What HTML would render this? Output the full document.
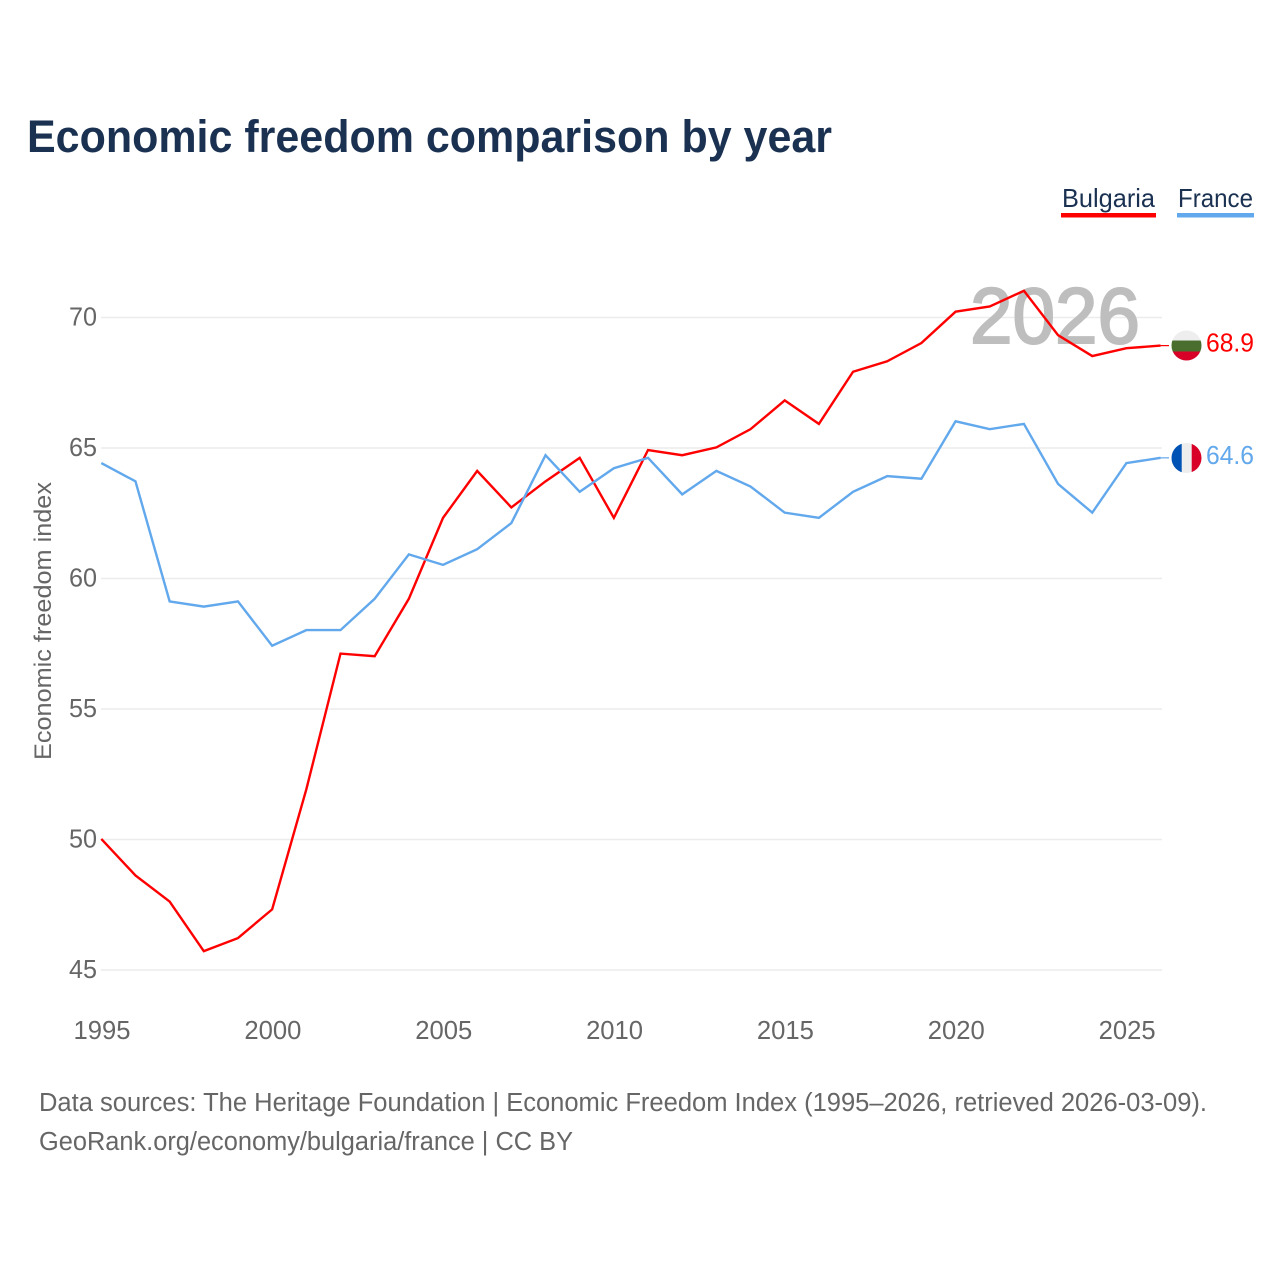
<!DOCTYPE html>
<html lang="en">
<head>
<meta charset="utf-8">
<title>Economic freedom comparison by year</title>
<style>
html,body{margin:0;padding:0;background:#fff;width:1280px;height:1280px;overflow:hidden}
svg{display:block}
text{font-family:"Liberation Sans",sans-serif}
</style>
</head>
<body>
<svg id="chart" xmlns="http://www.w3.org/2000/svg" width="1280" height="1280" viewBox="0 0 1280 1280">
  <rect width="1280" height="1280" fill="#fff"/>
  <text x="27" y="152" font-size="45" font-weight="700" fill="#1a3151" textLength="805" lengthAdjust="spacingAndGlyphs">Economic freedom comparison by year</text>

  <g>
    <text x="1062" y="207" font-size="26" fill="#1a3151" textLength="93" lengthAdjust="spacingAndGlyphs">Bulgaria</text>
    <rect x="1061" y="213" width="95" height="4.5" fill="#ff0000"/>
  </g>
  <g>
    <text x="1178" y="207" font-size="26" fill="#1a3151" textLength="75" lengthAdjust="spacingAndGlyphs">France</text>
    <rect x="1177" y="213" width="77" height="4.5" fill="#62a8ec"/>
  </g>

  <g id="grid"></g>
  <text x="970" y="343" font-size="79" font-weight="400" fill="#bebebe" stroke="#bebebe" stroke-width="2" textLength="170" lengthAdjust="spacingAndGlyphs">2026</text>
  <g id="yticks"></g>
  <g id="xticks"></g>
  <text transform="translate(51 621) rotate(-90)" text-anchor="middle" font-size="24" fill="#666" textLength="278" lengthAdjust="spacingAndGlyphs">Economic freedom index</text>
  <g id="series"></g>
  <g id="flags"></g>

  <text x="39" y="1111" font-size="25.5" fill="#666" textLength="1168" lengthAdjust="spacingAndGlyphs">Data sources: The Heritage Foundation | Economic Freedom Index (1995–2026, retrieved 2026-03-09).</text>
  <text x="39" y="1150" font-size="25.5" fill="#666" textLength="534" lengthAdjust="spacingAndGlyphs">GeoRank.org/economy/bulgaria/france | CC BY</text>
</svg>
<script>
const years = [1995,1996,1997,1998,1999,2000,2001,2002,2003,2004,2005,2006,2007,2008,2009,2010,2011,2012,2013,2014,2015,2016,2017,2018,2019,2020,2021,2022,2023,2024,2025,2026];
const bulgaria = [50.0,48.6,47.6,45.7,46.2,47.3,51.9,57.1,57.0,59.2,62.3,64.1,62.7,63.7,64.6,62.3,64.9,64.7,65.0,65.7,66.8,65.9,67.9,68.3,69.0,70.2,70.4,71.0,69.3,68.5,68.8,68.9];
const france = [64.4,63.7,59.1,58.9,59.1,57.4,58.0,58.0,59.2,60.9,60.5,61.1,62.1,64.7,63.3,64.2,64.6,63.2,64.1,63.5,62.5,62.3,63.3,63.9,63.8,66.0,65.7,65.9,63.6,62.5,64.4,64.6];
const yTickValues = [45,50,55,60,65,70];
const xTickValues = [1995,2000,2005,2010,2015,2020,2025];

const NS = 'http://www.w3.org/2000/svg';
const xScale = v => 101.3 + (v - 1995) * (1160.6 - 101.3) / (2026 - 1995);
const yScale = v => 970 - (v - 45) * (970 - 317.5) / (70 - 45);
const lineY = v => yScale(v) - 0.6;

function make(tag, parent, attrs) {
  const el = document.createElementNS(NS, tag);
  Object.keys(attrs).forEach(k => el.setAttribute(k, attrs[k]));
  parent.appendChild(el);
  return el;
}

const grid = document.getElementById('grid');
const yticks = document.getElementById('yticks');
const xticks = document.getElementById('xticks');
const seriesGroup = document.getElementById('series');
const flags = document.getElementById('flags');

yTickValues.forEach(v => {
  const line = make('line', grid, {x1: 101, x2: 1162, y1: yScale(v), y2: yScale(v), stroke: '#ececec', 'stroke-width': 1.5});
  
  
  const label = make('text', yticks, {x: 97, y: yScale(v) + 8, 'text-anchor': 'end', 'font-size': 26, fill: '#666', textLength: 28, lengthAdjust: 'spacingAndGlyphs'});
  label.textContent = String(v);
  
  
});

xTickValues.forEach(v => {
  const label = make('text', xticks, {x: xScale(v) + 0.7, y: 1039, 'text-anchor': 'middle', 'font-size': 26, fill: '#666', textLength: 57, lengthAdjust: 'spacingAndGlyphs'});
  label.textContent = String(v);
  
  
});

function drawSeries(values, color) {
  const pts = values.map((v, i) => xScale(years[i]).toFixed(2) + ',' + lineY(v).toFixed(2)).join(' ');
  const line = make('polyline', seriesGroup, {points: pts, fill: 'none', stroke: color, 'stroke-width': 2.4, 'stroke-linejoin': 'miter'});
  
  
  const lastY = lineY(values[values.length - 1]);
  const lead = make('line', seriesGroup, {x1: xScale(2026), x2: 1169, y1: lastY, y2: lastY, stroke: color, 'stroke-width': 1.2});
  
  
  const val = make('text', flags, {x: 1206, y: lastY + 6, 'font-size': 26, fill: color, textLength: 48, lengthAdjust: 'spacingAndGlyphs'});
  val.textContent = values[values.length - 1].toFixed(1);
  
  
}
drawSeries(bulgaria, '#ff0000');
drawSeries(france, '#62a8ec');

const defs = make('defs', flags, {});
function clip(id, cy) {
  const c = make('clipPath', defs, {id: id});
  make('circle', c, {cx: 1186.5, cy: cy, r: 15});
}

const bgY = lineY(bulgaria[bulgaria.length - 1]) - 0.1;
clip('clip-bg', bgY);
const bgFlag = make('g', flags, {'clip-path': 'url(#clip-bg)'});


make('rect', bgFlag, {x: 1171, y: bgY - 16, width: 31, height: 32, fill: '#eeeeee'});
make('rect', bgFlag, {x: 1171, y: bgY - 5, width: 31, height: 11, fill: '#496e2d'});
make('rect', bgFlag, {x: 1171, y: bgY + 6, width: 31, height: 10, fill: '#d80027'});

const frY = lineY(france[france.length - 1]) + 0.2;
clip('clip-fr', frY);
const frFlag = make('g', flags, {'clip-path': 'url(#clip-fr)'});


make('rect', frFlag, {x: 1171, y: frY - 16, width: 31, height: 32, fill: '#eeeeee'});
make('rect', frFlag, {x: 1171, y: frY - 16, width: 10.7, height: 32, fill: '#0052b4'});
make('rect', frFlag, {x: 1191.7, y: frY - 16, width: 10.3, height: 32, fill: '#d80027'});
</script>
</body>
</html>
